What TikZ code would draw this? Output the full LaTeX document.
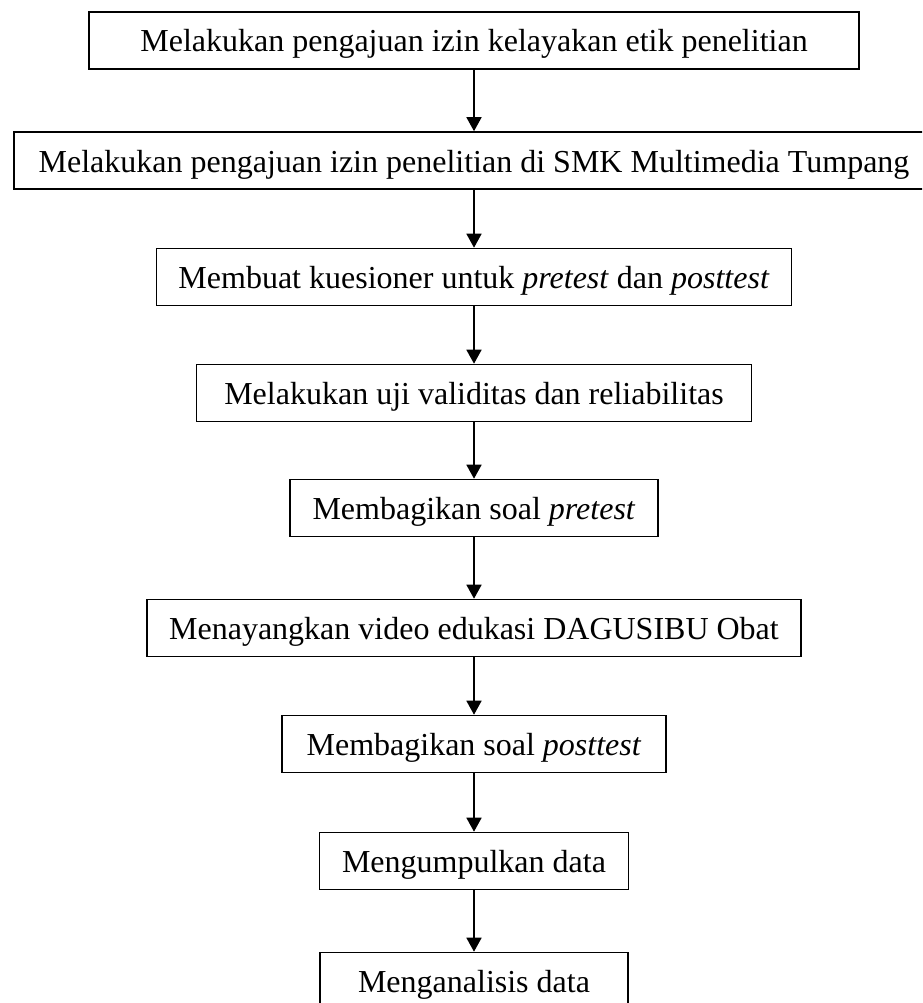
\documentclass[tikz,border=0pt]{standalone}
\usepackage{fontspec}
\setmainfont{Liberation Serif}
\usetikzlibrary{arrows.meta}
\begin{document}
\begin{tikzpicture}[x=1pt,y=-1pt,
  stepbox/.style={draw=black,line width=1.6pt,fill=white,minimum height=57pt,inner sep=0pt,
    font=\fontsize{32}{38}\selectfont,text height=28pt,text depth=5pt},
  flow/.style={line width=1.6pt,-{Triangle[width=15pt,length=14pt]}}]
\useasboundingbox (0,0) rectangle (922,1003);
\clip (0,0) rectangle (922,1003);
\node[stepbox,minimum width=770pt] (b1) at (474,40.5) {Melakukan pengajuan izin kelayakan etik penelitian};
\node[stepbox,minimum width=920pt] (b2) at (474,160.5) {Melakukan pengajuan izin penelitian di SMK Multimedia Tumpang};
\node[stepbox,minimum width=635pt] (b3) at (474,277) {Membuat kuesioner untuk \textit{pretest} dan \textit{posttest}};
\node[stepbox,minimum width=555pt] (b4) at (474,393) {Melakukan uji validitas dan reliabilitas};
\node[stepbox,minimum width=368pt] (b5) at (474,508) {Membagikan soal \textit{pretest}};
\node[stepbox,minimum width=654pt] (b6) at (474,628) {Menayangkan video edukasi DAGUSIBU Obat};
\node[stepbox,minimum width=384pt] (b7) at (474,744) {Membagikan soal \textit{posttest}};
\node[stepbox,minimum width=309pt] (b8) at (474,861) {Mengumpulkan data};
\node[stepbox,minimum width=308pt] (b9) at (474,981) {Menganalisis data};
\draw[flow] (b1.south) -- (b2.north);
\draw[flow] (b2.south) -- (b3.north);
\draw[flow] (b3.south) -- (b4.north);
\draw[flow] (b4.south) -- (b5.north);
\draw[flow] (b5.south) -- (b6.north);
\draw[flow] (b6.south) -- (b7.north);
\draw[flow] (b7.south) -- (b8.north);
\draw[flow] (b8.south) -- (b9.north);
\end{tikzpicture}
\end{document}
